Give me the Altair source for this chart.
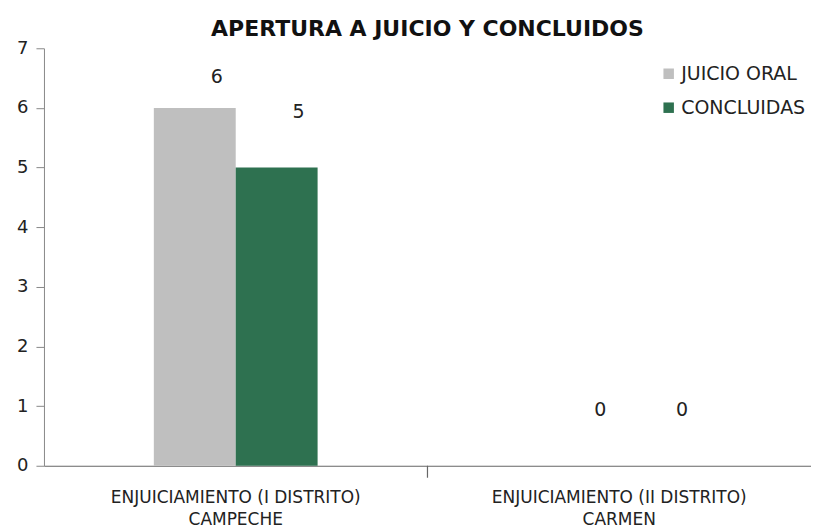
import altair as alt
import pandas as pd

categorias = ["ENJUICIAMIENTO  (I DISTRITO)\nCAMPECHE", "ENJUICIAMIENTO  (II DISTRITO)\nCARMEN"]
series = ["JUICIO ORAL", "CONCLUIDAS"]
juicio_oral = [6, 0]
concluidas = [5, 0]
colores = ["#BFBFBF", "#2E7150"]
titulo = "APERTURA A JUICIO Y CONCLUIDOS"

rows = []
for i, c in enumerate(categorias):
    rows.append({"cat": c, "serie": series[0], "valor": juicio_oral[i], "idx": i})
    rows.append({"cat": c, "serie": series[1], "valor": concluidas[i], "idx": i})
df = pd.DataFrame(rows)

FONT = "DejaVu Sans"
PI = 0.573

x_enc = alt.X("cat:N", sort=categorias, title=None,
              scale=alt.Scale(paddingInner=PI, paddingOuter=PI / 2),
              axis=alt.Axis(labelExpr="split(datum.label, '\\n')", labelAngle=0,
                            labelFontSize=17, labelColor="#222222", labelFont=FONT,
                            labelLimit=0,
                            ticks=False, labelPadding=24, labelLineHeight=22,
                            domainColor="#666666", domainWidth=1.2))
xoff = alt.XOffset("serie:N", sort=series,
                   scale=alt.Scale(paddingOuter=0, paddingInner=0))
y_enc = alt.Y("valor:Q", title=None,
              scale=alt.Scale(domain=[0, 7], nice=False),
              axis=alt.Axis(values=[0, 1, 2, 3, 4, 5, 6, 7], grid=False,
                            labelFontSize=18, labelColor="#222222", labelFont=FONT,
                            tickSize=8, tickColor="#888888", domainColor="#888888",
                            labelPadding=8))
color_enc = alt.Color("serie:N", sort=series,
                      scale=alt.Scale(domain=series, range=colores),
                      legend=alt.Legend(title=None, orient="none", legendX=616, legendY=16,
                                        symbolType="square", symbolSize=110,
                                        symbolStrokeWidth=0,
                                        labelFontSize=19, labelColor="#222222", labelFont=FONT,
                                        rowPadding=14, labelOffset=3))

base = alt.Chart(df)
bars = base.mark_bar().encode(x=x_enc, xOffset=xoff, y=y_enc, color=color_enc)

txt_kw = dict(fontSize=19, font=FONT, color="#222222", dx=22)
lab_high = base.transform_filter("datum.serie == 'JUICIO ORAL' && datum.idx == 0").mark_text(
    dy=-31, **txt_kw).encode(x=x_enc, xOffset=xoff, y=y_enc, text="valor:Q")
lab_rest = base.transform_filter("!(datum.serie == 'JUICIO ORAL' && datum.idx == 0)").mark_text(
    dy=-56, **txt_kw).encode(x=x_enc, xOffset=xoff, y=y_enc, text="valor:Q")

main = alt.layer(bars, lab_high, lab_rest)

sep = alt.Chart(pd.DataFrame({"limite": [1]})).mark_rule(color="#666666", strokeWidth=1.2).encode(
    x=alt.X("limite:Q", scale=alt.Scale(domain=[0, len(categorias)], nice=False), axis=None),
    y=alt.value(418), y2=alt.value(430))

chart = alt.layer(main, sep).resolve_scale(x="independent").properties(
    width=768, height=418,
    title=alt.TitleParams(titulo, fontSize=22, font=FONT, fontWeight="bold",
                          color="#111111", anchor="middle", offset=-2),
    padding={"left": 8, "top": 10, "right": 0, "bottom": 0},
).configure_view(stroke=None)

chart.save("out.html", embed_options={"renderer": "svg", "actions": False})
